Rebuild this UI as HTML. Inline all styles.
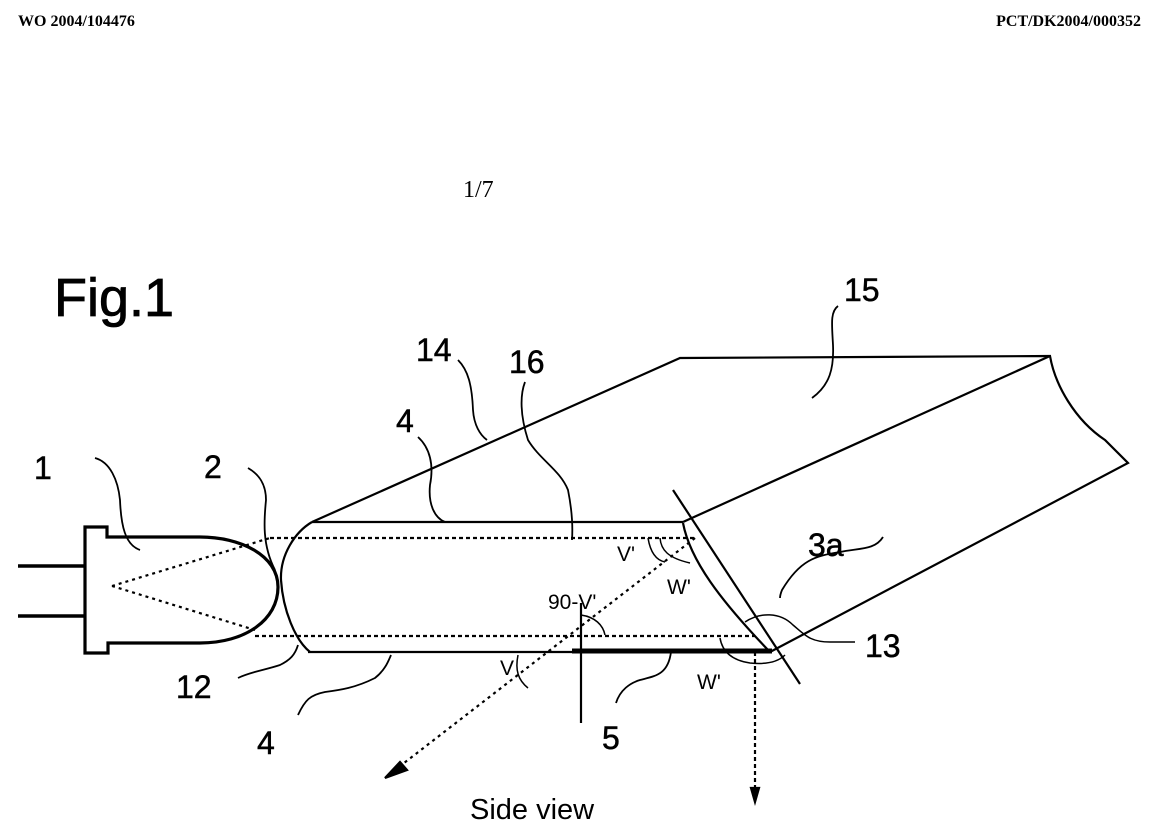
<!DOCTYPE html>
<html><head><meta charset="utf-8"><style>
html,body{margin:0;padding:0;background:#fff;}
svg{display:block;}
</style></head><body>
<svg width="1163" height="836" viewBox="0 0 1163 836" xmlns="http://www.w3.org/2000/svg">
<g font-family="Liberation Serif, serif" font-weight="bold" font-size="16" fill="#000">
<text x="18" y="26">WO 2004/104476</text>
<text x="1141" y="26" text-anchor="end">PCT/DK2004/000352</text>
</g>
<text x="463" y="197" font-family="Liberation Serif, serif" font-size="24">1/7</text>
<text x="54" y="316" font-family="Liberation Sans, sans-serif" font-size="54" stroke="#000" stroke-width="0.8">Fig.1</text>

<g fill="none" stroke="#000" stroke-width="2.2">
<line x1="18" y1="566" x2="85" y2="566" stroke-width="3.5"/>
<line x1="18" y1="616" x2="85" y2="616" stroke-width="3.5"/>
<path d="M85,527 H107 V537 H200 C240,537 278,555 278,587 C278,620 245,643 200,643 H108 V653 H85 Z" stroke-width="3.2"/>
<path d="M312,522 H683"/>
<path d="M308,652 H770"/>
<path d="M312,522 C295,532 280,555 281,580 C283,610 295,640 310,652"/>
<path d="M112,586 L270,538 M112,586 L255,630" stroke-dasharray="3,4"/>
<path d="M270,538 H695 M255,636 H755" stroke-dasharray="4,3"/>
<path d="M312,522 L680,358 L1050,356 C1055,385 1075,420 1105,440 L1128,463 L770,652"/>
<path d="M683,522 L1050,356"/>
<path d="M673,490 L800,684"/>
<path d="M683,523 C690,560 720,600 770,652"/>
<line x1="572" y1="651" x2="772" y2="651" stroke-width="5"/>
<path d="M695,538 L395,770" stroke-dasharray="3,4"/>
<polygon points="385,778 400,762 407,770" fill="#000"/>
<path d="M755,652 V792" stroke-dasharray="4,3"/>
<polygon points="751,788 759,788 755,802" fill="#000"/>
<line x1="581" y1="603" x2="581" y2="723"/>
<path d="M581,615 C595,617 603,625 605,635" stroke-width="1.5"/>
<path d="M518,655 C515,670 518,680 528,688" stroke-width="1.5"/>
<path d="M648,538 C650,550 655,560 665,562" stroke-width="1.5"/>
<path d="M660,538 C661,550 668,558 690,563" stroke-width="1.5"/>
<path d="M720,638 C722,650 730,660 750,663 C770,665 780,660 785,655" stroke-width="1.5"/>
<path d="M745,622 C760,612 780,612 793,625 C805,635 810,642 830,642 H855" stroke-width="1.5"/>
<g stroke-width="1.8">
<path d="M95,458 C110,462 118,480 120,500 C121,525 125,545 140,550"/>
<path d="M248,468 C260,475 266,485 266,500 C264,520 262,545 275,570"/>
<path d="M238,678 C250,672 265,670 280,665 C290,660 295,655 298,645"/>
<path d="M298,715 C305,700 310,695 325,692 C340,690 355,688 375,678 C385,670 388,662 391,655"/>
<path d="M418,437 C430,448 434,465 430,485 C428,505 435,518 445,522"/>
<path d="M458,360 C468,370 472,385 473,410 C474,425 480,435 487,440"/>
<path d="M525,382 C520,395 520,415 528,440 C540,460 560,470 568,490 C572,510 573,525 572,540"/>
<path d="M838,306 C830,312 832,325 833,345 C834,368 830,385 812,398"/>
<path d="M883,537 C875,550 860,548 840,552 C815,556 800,560 782,590 C780,595 780,598 780,598"/>
<path d="M616,703 C620,690 630,683 640,680 C655,676 668,675 671,652"/>
</g>
</g>

<g font-family="Liberation Sans, sans-serif" fill="#000" font-size="32" stroke="#000" stroke-width="0.5">
<text x="34" y="479">1</text>
<text x="204" y="478">2</text>
<text x="176" y="698">12</text>
<text x="257" y="754">4</text>
<text x="396" y="432">4</text>
<text x="416" y="361">14</text>
<text x="509" y="373">16</text>
<text x="844" y="301">15</text>
<text x="808" y="556">3a</text>
<text x="865" y="657">13</text>
<text x="602" y="749">5</text>
</g>
<text x="470" y="819" font-family="Liberation Sans, sans-serif" font-size="29">Side view</text>
<g font-family="Liberation Sans, sans-serif" fill="#000" font-size="21">
<text x="500" y="675">V</text>
<text x="617" y="561">V'</text>
<text x="667" y="594">W'</text>
<text x="697" y="689">W'</text>
<text x="548" y="609">90-V'</text>
</g>
</svg>
</body></html>
